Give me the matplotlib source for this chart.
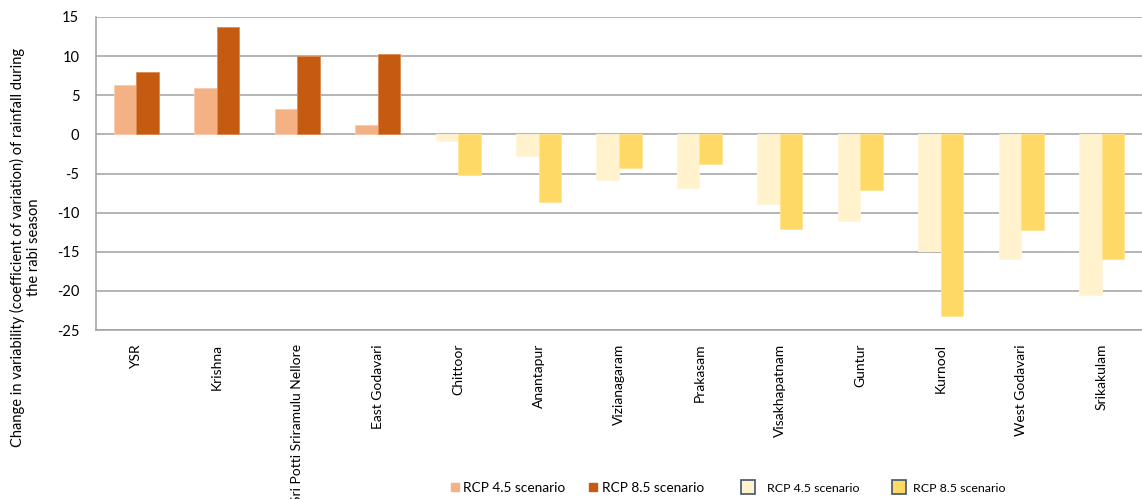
import numpy as np
import matplotlib.pyplot as plt
from matplotlib.lines import Line2D

plt.rcParams['font.family'] = ['Lato', 'DejaVu Sans']

districts_up = ["YSR", "Krishna", "Sri Potti Sriramulu Nellore", "East Godavari"]
districts_down = ["Chittoor", "Anantapur", "Vizianagaram", "Prakasam", "Visakhapatnam",
                  "Guntur", "Kurnool", "West Godavari", "Srikakulam"]
up_rcp45 = [6.3, 5.9, 3.2, 1.15]
up_rcp85 = [8.0, 13.7, 10.0, 10.3]
down_rcp45 = [-0.85, -2.7, -5.8, -6.8, -8.95, -11.1, -14.9, -15.9, -20.5]
down_rcp85 = [-5.25, -8.7, -4.25, -3.8, -12.1, -7.05, -23.2, -12.2, -15.9]
yticks = [15, 10, 5, 0, -5, -10, -15, -20, -25]
legend_labels = ["RCP 4.5 scenario", "RCP 8.5 scenario", "RCP 4.5 scenario", "RCP 8.5 scenario"]

c45_up, c85_up = "#F4B183", "#C55A11"
c45_dn, c85_dn = "#FFF2CC", "#FFD966"

W, H = 1142, 499
fig = plt.figure(figsize=(W / 100, H / 100), dpi=100)
ax = fig.add_axes([96 / W, 1 - 330 / H, (W - 96) / W, 313 / H])

categories = districts_up + districts_down
x = np.arange(len(categories))
xu = x[:len(districts_up)]
xd = x[len(districts_up):]
w = 0.28

ax.bar(xu - w / 2, up_rcp45, w, color=c45_up, edgecolor="#F8CBAD", linewidth=0.6, zorder=3)
ax.bar(xu + w / 2, up_rcp85, w, color=c85_up, edgecolor="#E08A50", linewidth=0.6, zorder=3)
ax.bar(xd - w / 2, down_rcp45, w, color=c45_dn, edgecolor="#FFF6DC", linewidth=0.6, zorder=3)
ax.bar(xd + w / 2, down_rcp85, w, color=c85_dn, edgecolor="#FFE490", linewidth=0.6, zorder=3)

ax.set_xlim(-0.5, len(categories) - 0.5)
ax.set_ylim(-25, 15)
ax.set_yticks(yticks)
ax.set_yticklabels([str(v) for v in yticks], fontsize=10.5)
ax.yaxis.grid(True, color="#A0A0A0", linewidth=1.1, zorder=0)
ax.set_axisbelow(True)
ax.set_xticks(x)
ax.set_xticklabels(categories, rotation=90, fontsize=10, va="top")
ax.tick_params(axis="both", length=0)
ax.tick_params(axis="x", pad=10)
ax.tick_params(axis="y", pad=12)
for side in ["top", "right"]:
    ax.spines[side].set_visible(False)
for side in ["left", "bottom"]:
    ax.spines[side].set_color("#A0A0A0")
    ax.spines[side].set_linewidth(1.1)

fig.text(0.022, 1 - 247 / H,
         "Change in variability (coefficient of variation) of rainfall during\nthe rabi season",
         rotation=90, ha="center", va="center", fontsize=10.5, linespacing=1.2)

# Legend entries: small solid squares for the positive group, framed boxes for the negative group
handles = [
    Line2D([], [], marker="s", linestyle="none", markersize=6, markerfacecolor=c45_up,
           markeredgecolor=c45_up),
    Line2D([], [], marker="s", linestyle="none", markersize=6, markerfacecolor=c85_up,
           markeredgecolor=c85_up),
    Line2D([], [], marker="s", linestyle="none", markersize=10.5, markerfacecolor=c45_dn,
           markeredgecolor="#44546A", markeredgewidth=1.2),
    Line2D([], [], marker="s", linestyle="none", markersize=10.5, markerfacecolor=c85_dn,
           markeredgecolor="#44546A", markeredgewidth=1.2),
]
starts = [448, 586, 740.6, 891.6]
pads = [0.1, 0.15, 0.93, 0.53]
sizes = [9.8, 9.8, 8.9, 8.9]
hlens = [1.0, 1.0, 1.2, 1.2]
for h, lab, x0, pad, fs, hl in zip(handles, legend_labels, starts, pads, sizes, hlens):
    fig.legend([h], [lab], loc="center left", bbox_to_anchor=(x0 / W, 1 - 488 / H),
               frameon=False, fontsize=fs, handlelength=hl, handletextpad=pad,
               borderpad=0, borderaxespad=0)

fig.savefig("out.png", dpi=100)
